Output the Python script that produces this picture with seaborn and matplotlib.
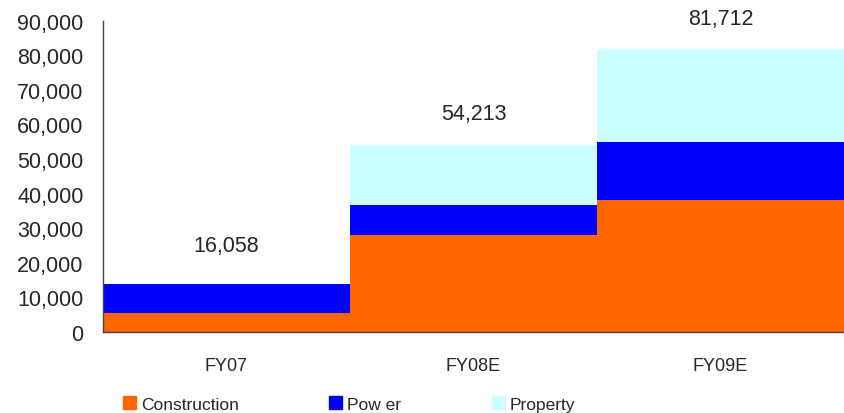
import pandas as pd
import matplotlib.pyplot as plt
import seaborn as sns
import numpy as np
from matplotlib.patches import Patch
from matplotlib.ticker import FuncFormatter, MultipleLocator

years = ["FY07", "FY08E", "FY09E"]
construction = [5500, 28000, 38100]
power = [8400, 8700, 16800]
property_ = [0, 17500, 26800]
totals = [16058, 54213, 81712]

colors = {"Construction": "#FF6600", "Pow er": "#0000FF", "Property": "#CCFFFF"}

sns.set_style("white")
plt.rcParams['font.family'] = ['Liberation Sans', 'DejaVu Sans']

df = pd.DataFrame({"year": years, "Construction": construction,
                   "Pow er": power, "Property": property_})
# cumulative heights, drawn from the tallest down so the layers stack
df["c1"] = df["Construction"]
df["c2"] = df["c1"] + df["Pow er"]
df["c3"] = df["c2"] + df["Property"]

fig = plt.figure(figsize=(8.45, 4.14), dpi=100)
ax = fig.add_axes([103 / 845, 1 - 333 / 414, 741 / 845, (333 - 21.7) / 414])

for col, name in [("c3", "Property"), ("c2", "Pow er"), ("c1", "Construction")]:
    sns.barplot(data=df, x="year", y=col, color=colors[name], width=1,
                saturation=1, linewidth=0, ax=ax)

for i, t in enumerate(totals):
    ax.text(i, t + 9000, f"{t:,}", ha="center", va="center", fontsize=15.5)

ax.set_xlim(-0.5, 2.5)
ax.set_ylim(0, 90000)
ax.yaxis.set_major_locator(MultipleLocator(10000))
ax.yaxis.set_major_formatter(FuncFormatter(lambda v, p: f"{int(v):,}"))
ax.set_xlabel("")
ax.set_ylabel("")

# category boundaries as major ticks, labels at centres
ax.set_xticks([-0.5, 0.5, 1.5, 2.5])
ax.set_xticklabels([])
ax.set_xticks([0, 1, 2], minor=True)
ax.set_xticklabels(years, minor=True)
ax.tick_params(axis="x", which="major", direction="inout", length=10, width=0.8, color="#444444")
ax.tick_params(axis="x", which="minor", direction="out", length=6, width=0.8, color="#444444",
               labelsize=13, pad=12)
ax.tick_params(axis="y", direction="inout", length=10, width=0.8, color="#444444",
               labelsize=15.5, pad=9)

for s in ["top", "right"]:
    ax.spines[s].set_visible(False)
for s in ["left", "bottom"]:
    ax.spines[s].set_color("#444444")
    ax.spines[s].set_linewidth(1)

handles = [Patch(color=colors[n]) for n in ["Construction", "Pow er", "Property"]]
fig.legend(handles, ["Construction", "Pow er", "Property"], loc="center",
           bbox_to_anchor=(349 / 845, 1 - 405 / 414), ncol=3, frameon=False, fontsize=12.5,
           handlelength=0.75, handleheight=0.75, handletextpad=0.3, columnspacing=5.2,
           borderpad=0)

fig.savefig("out.png", dpi=100)
